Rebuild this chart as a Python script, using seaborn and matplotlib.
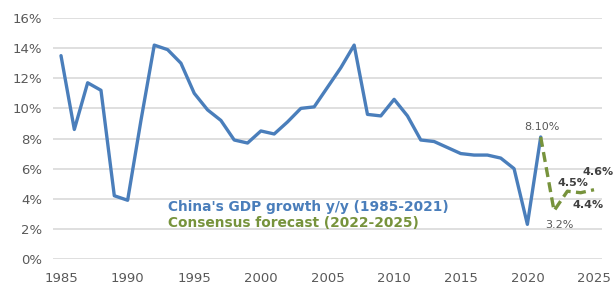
import pandas as pd
import matplotlib.pyplot as plt
import seaborn as sns

# China GDP growth, actual and consensus forecast
years = list(range(1985, 2022))
growth = [13.5, 8.6, 11.7, 11.2, 4.2, 3.9, 9.2, 14.2, 13.9, 13.0,
          11.0, 9.9, 9.2, 7.9, 7.7, 8.5, 8.3, 9.1, 10.0, 10.1,
          11.4, 12.7, 14.2, 9.6, 9.5, 10.6, 9.5, 7.9, 7.8, 7.4,
          7.0, 6.9, 6.9, 6.7, 6.0, 2.3, 8.1]
fc_years = [2021, 2022, 2023, 2024, 2025]
fc_growth = [8.1, 3.2, 4.5, 4.4, 4.6]
fc_labels = ['8.10%', '3.2%', '4.5%', '4.4%', '4.6%']

hist = pd.DataFrame({'year': years, 'growth': [g / 100 for g in growth]})
fc = pd.DataFrame({'year': fc_years, 'growth': [g / 100 for g in fc_growth]})

blue = '#4a7ebb'
green = '#77933c'

sns.set_style("white")
plt.rcParams['font.family'] = ['DejaVu Sans']

fig = plt.figure(figsize=(6.14, 2.84), dpi=100)
ax = fig.add_axes([53 / 614, 1 - 259 / 284, 549 / 614, 241 / 284])

sns.lineplot(data=hist, x='year', y='growth', color=blue, linewidth=2.4, ax=ax)
sns.lineplot(data=fc, x='year', y='growth', color=green, linewidth=2.4,
             linestyle=(0, (3, 1.6)), ax=ax)

# data labels (offsets in points from each point)
offsets = [(1, 7), (4, -10), (4, 6), (5, -9), (3, 13)]
for i, (x, y, lab) in enumerate(zip(fc['year'], fc['growth'], fc_labels)):
    bold = i >= 2
    ax.annotate(lab, (x, y), xytext=offsets[i], textcoords='offset points',
                ha='center', va='center', fontsize=8,
                color='#404040' if bold else '#595959',
                fontweight='bold' if bold else 'normal', annotation_clip=False)

ax.text(1993.0, 0.0345, "China's GDP growth y/y (1985-2021)", color=blue,
        fontsize=9.9, fontweight='bold', va='center')
ax.text(1993.0, 0.0239, "Consensus forecast (2022-2025)", color=green,
        fontsize=9.9, fontweight='bold', va='center')

ax.set_xlim(1984.4, 2025.6)
ax.set_ylim(0, 0.16)
ax.set_yticks([i / 100 for i in range(0, 17, 2)])
ax.set_yticklabels([f'{i}%' for i in range(0, 17, 2)])
ax.set_xticks(range(1985, 2026, 5))
ax.grid(axis='y', color='#d9d9d9', linewidth=1.2)
ax.set_axisbelow(True)
ax.set_xlabel('')
ax.set_ylabel('')
ax.tick_params(colors='#595959', labelsize=9.5, length=0)
ax.tick_params(axis='y', pad=8)
ax.tick_params(axis='x', pad=9)
sns.despine(ax=ax, left=True, bottom=True)

fig.savefig('out.png', dpi=100)
